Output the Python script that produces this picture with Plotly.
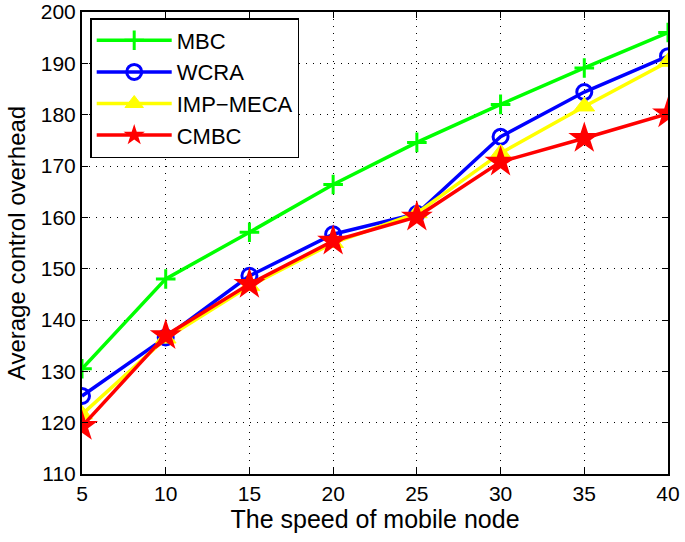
import plotly.graph_objects as go

speed = [5, 10, 15, 20, 25, 30, 35, 40]
mbc = [130.5, 148.0, 157.1, 166.4, 174.6, 182.0, 189.1, 196.0]
wcra = [125.2, 136.6, 148.6, 156.7, 160.7, 175.7, 184.4, 191.4]
imp_meca = [121.6, 136.4, 146.6, 155.0, 160.8, 172.5, 181.6, 190.3]
cmbc = [119.3, 137.0, 147.0, 155.4, 160.1, 170.8, 175.4, 180.2]

FONT = "Liberation Sans, Arial, Helvetica, sans-serif"

fig = go.Figure()
fig.add_trace(go.Scatter(x=speed, y=mbc, name="MBC", mode="lines+markers",
                         line=dict(color="#00ff00", width=3.5),
                         marker=dict(symbol="cross-thin", size=14, color="#00ff00",
                                     line=dict(color="#00ff00", width=3))))
fig.add_trace(go.Scatter(x=speed, y=wcra, name="WCRA", mode="lines+markers",
                         line=dict(color="#0000ff", width=3.5),
                         marker=dict(symbol="circle-open", size=15, color="#0000ff",
                                     line=dict(color="#0000ff", width=3))))
fig.add_trace(go.Scatter(x=speed, y=imp_meca, name="IMP\u2212MECA", mode="lines+markers",
                         line=dict(color="#ffff00", width=3.5),
                         marker=dict(symbol="triangle-up", size=18, color="#ffff00",
                                     line=dict(color="#ffff00", width=1))))
fig.add_trace(go.Scatter(x=speed, y=cmbc, name="CMBC", mode="lines+markers",
                         line=dict(color="#ff0000", width=3.5),
                         marker=dict(symbol="star", size=24, color="#ff0000",
                                     line=dict(color="#ff0000", width=0))))

axis_common = dict(showline=True, linecolor="black", linewidth=2, mirror="ticks",
                   ticks="inside", ticklen=6, tickcolor="black", tickwidth=1,
                   showgrid=True, gridcolor="black", gridwidth=1, griddash="1px,6px",
                   zeroline=False, automargin=False, ticklabeloverflow="allow",
                   tickfont=dict(family=FONT, size=21, color="black"))

fig.update_layout(
    width=685, height=542,
    margin=dict(l=82, r=17, t=12, b=68),
    plot_bgcolor="white", paper_bgcolor="white",
    font=dict(family=FONT, color="black"),
    xaxis=dict(range=[5, 40], tickmode="array", tickvals=speed,
               title=dict(text="The speed of mobile node", font=dict(family=FONT, size=25), standoff=6),
               **axis_common),
    yaxis=dict(range=[110, 200], tickmode="linear", tick0=110, dtick=10,
               title=dict(text="Average control overhead", font=dict(family=FONT, size=24), standoff=8),
               **axis_common),
    legend=dict(x=0.014, y=0.987, xanchor="left", yanchor="top",
                bgcolor="white", bordercolor="black", borderwidth=1.5,
                font=dict(family=FONT, size=22, color="black"), itemwidth=75),
    showlegend=True,
)

fig.write_html("out.html", config={"displayModeBar": False},
               post_script="document.body.style.margin='0';document.body.style.overflow='hidden';")
